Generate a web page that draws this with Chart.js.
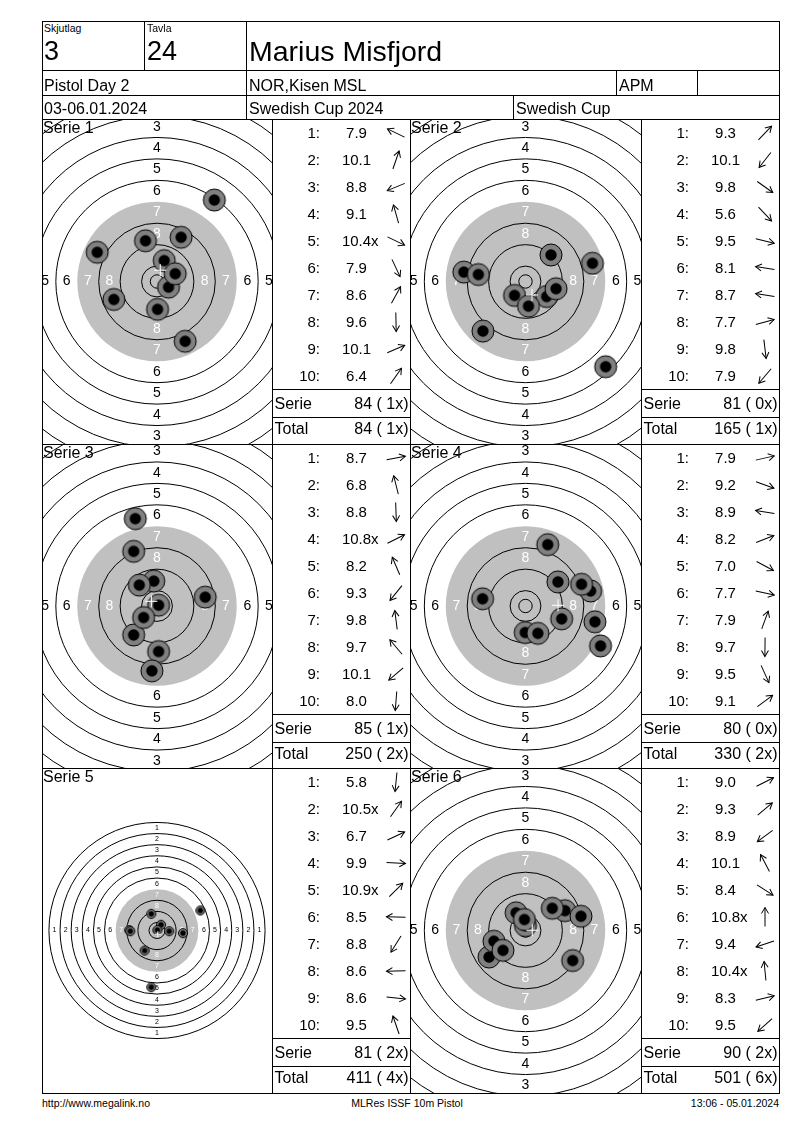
<!DOCTYPE html>
<html lang="sv">
<head>
<meta charset="utf-8">
<title>Marius Misfjord - Swedish Cup 2024</title>
<script src="https://cdn.jsdelivr.net/npm/chart.js@4.4.1/dist/chart.umd.min.js"></script>
<style>
  html, body { margin: 0; padding: 0; background: #fff; }
  #page { position: relative; width: 800px; height: 1130px; overflow: hidden;
          font-family: Arial, "Liberation Sans", sans-serif; color: #000; }
  .t { position: absolute; white-space: pre; line-height: 1; z-index: 4; }
  .hl, .vl { position: absolute; background: #000; z-index: 3; }
  .hl { height: 1px; }
  .vl { width: 1px; }
  canvas { position: absolute; }
  .arrow { position: absolute; width: 22px; height: 22px; z-index: 4; }
</style>
</head>
<body>
<div id="page"></div>
<script>
// Rubriker
const headerLabels = ['Skjutlag', 'Tavla'];
const headerValues = ['3', '24'];
const shooter = 'Marius Misfjord';
const rowTwo = ['Pistol Day 2', 'NOR,Kisen MSL', 'APM', ''];
const rowThree = ['03-06.01.2024', 'Swedish Cup 2024', 'Swedish Cup'];
const footer = ['http://www.megalink.no', 'MLRes ISSF 10m Pistol', '13:06 - 05.01.2024'];

const serieLabels = ['Serie 1', 'Serie 2', 'Serie 3', 'Serie 4', 'Serie 5', 'Serie 6'];
const ringNumbers = [1, 2, 3, 4, 5, 6, 7, 8, 9, 10];

// Skott: poäng, inre tia, träffläge i mm från tavlans mitt (x höger, y upp)
const scores1 = [7.9, 10.1, 8.8, 9.1, 10.4, 7.9, 8.6, 9.6, 10.1, 6.4];
const inner1 = [0, 0, 0, 0, 1, 0, 0, 0, 0, 0];
const shotX1 = [-22.3, 2.7, -16.1, -4.3, 4.3, 10.5, 9.0, 0.2, 6.8, 21.4];
const shotY1 = [10.9, 7.8, -6.7, 15.2, -2.1, -22.3, 16.5, -10.4, 2.9, 30.4];

const scores2 = [9.3, 10.1, 9.8, 5.6, 9.5, 8.1, 8.7, 7.7, 9.8, 7.9];
const inner2 = [0, 0, 0, 0, 0, 0, 0, 0, 0, 0];
const shotX2 = [9.5, -4.1, 7.9, 29.9, 11.4, -23.0, -17.6, 25.0, 1.1, -15.9];
const shotY2 = [9.9, -5.2, -5.6, -31.8, -2.7, 3.5, 2.6, 6.8, -9.2, -18.5];

const scores3 = [8.7, 6.8, 8.8, 10.8, 8.2, 9.3, 9.8, 9.7, 10.1, 8.0];
const inner3 = [0, 0, 0, 1, 0, 0, 0, 0, 0, 0];
const shotX3 = [18.0, -8.1, 0.6, 0.6, -8.7, -8.7, -1.2, -6.6, -5.0, -1.9];
const shotY3 = [3.3, 32.6, -17.0, 0.3, 20.4, -10.8, 9.3, 7.8, -4.3, -24.2];

const scores4 = [7.9, 9.2, 8.9, 8.2, 7.0, 7.7, 7.9, 9.7, 9.5, 9.1];
const inner4 = [0, 0, 0, 0, 0, 0, 0, 0, 0, 0];
const shotX4 = [24.3, 13.5, -16.0, 20.9, 28.0, 25.9, 8.3, -0.1, 4.6, 12.1];
const shotY4 = [5.6, -4.8, 2.7, 8.1, -14.9, -5.9, 22.9, -9.9, -10.2, 9.0];

const scores5 = [5.8, 10.5, 6.7, 9.9, 10.9, 8.5, 8.8, 8.6, 8.6, 9.5];
const inner5 = [0, 1, 0, 0, 1, 0, 0, 0, 0, 0];
const shotX5 = [-4.1, 2.9, 31.2, 8.8, 0.3, -20.0, -8.9, -19.2, 18.7, -4.1];
const shotY5 = [-40.8, 4.1, 14.4, -0.5, 0.3, 0.3, -14.4, -0.5, -1.9, 12.0];

const scores6 = [9.0, 9.3, 8.9, 10.1, 8.4, 10.8, 9.4, 10.4, 8.3, 9.5];
const inner6 = [0, 0, 0, 0, 0, 1, 0, 1, 0, 0];
const shotX6 = [14.7, 10.0, -13.6, -3.5, 17.6, 0.0, -11.8, -0.4, 20.7, -8.4];
const shotY6 = [7.4, 8.3, -9.9, 6.6, -11.2, 1.8, -4.0, 4.1, 5.3, -7.4];

const series = [
  { scores: scores1, inner: inner1, xs: shotX1, ys: shotY1 },
  { scores: scores2, inner: inner2, xs: shotX2, ys: shotY2 },
  { scores: scores3, inner: inner3, xs: shotX3, ys: shotY3 },
  { scores: scores4, inner: inner4, xs: shotX4, ys: shotY4 },
  { scores: scores5, inner: inner5, xs: shotX5, ys: shotY5 },
  { scores: scores6, inner: inner6, xs: shotX6, ys: shotY6 }
];

// Tavlans mått (10 m luftpistol), mm
const tenRadius = 5.75;
const ringStep = 8;
const innerTenRadius = 2.5;

// Sidlayout
const blockTop = [119, 444, 768];
const blockHeight = [325, 324, 325];
const targetLeft = [42, 410];
const targetWidth = [230, 231];
const tableLeft = [272, 641];
const rowHeight = 27;

const page = document.getElementById('page');

function text(str, left, top, size, extra) {
  const d = document.createElement('div');
  d.className = 't';
  d.textContent = str;
  d.style.left = left + 'px';
  d.style.top = top + 'px';
  d.style.fontSize = size + 'px';
  if (extra) Object.assign(d.style, extra);
  page.appendChild(d);
  return d;
}

function hline(x1, x2, y) {
  const d = document.createElement('div');
  d.className = 'hl';
  d.style.left = x1 + 'px';
  d.style.top = y + 'px';
  d.style.width = (x2 - x1 + 1) + 'px';
  page.appendChild(d);
}

function vline(x, y1, y2) {
  const d = document.createElement('div');
  d.className = 'vl';
  d.style.left = x + 'px';
  d.style.top = y1 + 'px';
  d.style.height = (y2 - y1 + 1) + 'px';
  page.appendChild(d);
}

function arrow(left, top, deg) {
  const d = document.createElement('div');
  d.className = 'arrow';
  d.style.left = left + 'px';
  d.style.top = top + 'px';
  d.innerHTML = '<svg width="22" height="22"><g transform="rotate(' + (-deg) + ' 11 11)" ' +
    'stroke="#000" stroke-width="1" fill="none">' +
    '<line x1="1.5" y1="11" x2="20.5" y2="11"/>' +
    '<polyline points="14.5,7.5 20.5,11 14.5,14.5"/></g></svg>';
  page.appendChild(d);
}

// Ramar
[21, 70, 95, 119, 444, 768, 1093].forEach(y => hline(42, 779, y));
vline(42, 21, 1093);
vline(779, 21, 1093);
vline(144, 21, 70);
vline(246, 21, 119);
vline(616, 70, 95);
vline(697, 70, 95);
vline(513, 95, 119);
[272, 410, 641].forEach(x => vline(x, 119, 1093));

// Huvud
text(headerLabels[0], 44, 22.5, 10.5);
text(headerLabels[1], 147, 22.5, 10.5);
text(headerValues[0], 44, 37.5, 27);
text(headerValues[1], 147, 37.5, 27);
text(shooter, 249, 36.5, 28.5);
text(rowTwo[0], 44, 78, 16);
text(rowTwo[1], 249, 78, 16);
text(rowTwo[2], 619, 78, 16);
text(rowTwo[3], 700, 78, 16);
text(rowThree[0], 44, 100.8, 16);
text(rowThree[1], 249, 100.8, 16);
text(rowThree[2], 516, 100.8, 16);

// Fot
text(footer[0], 42, 1098, 10.5);
text(footer[1], 300, 1098, 10.5, { width: '214px', textAlign: 'center' });
text(footer[2], 579, 1098, 10.5, { width: '200px', textAlign: 'right' });

// Ringar, svart område och siffror ritas under skotten
const targetPlugin = {
  id: 'target',
  beforeDatasetsDraw(chart, args, opts) {
    const ctx = chart.ctx;
    const sx = chart.scales.x, sy = chart.scales.y;
    const cx = sx.getPixelForValue(0), cy = sy.getPixelForValue(0);
    const k = sx.getPixelForValue(1) - cx;
    const ringR = n => (tenRadius + (10 - n) * ringStep) * k;
    ctx.save();
    ctx.fillStyle = '#c0c0c0';
    ctx.beginPath();
    ctx.arc(cx, cy, ringR(7), 0, Math.PI * 2);
    ctx.fill();
    ctx.strokeStyle = '#000';
    ctx.lineWidth = 1;
    ringNumbers.forEach(n => {
      if (n === 7) return;
      ctx.beginPath();
      ctx.arc(cx, cy, ringR(n), 0, Math.PI * 2);
      ctx.stroke();
    });
    ctx.beginPath();
    ctx.arc(cx, cy, innerTenRadius * k, 0, Math.PI * 2);
    ctx.stroke();
    ctx.font = opts.labelSize + 'px Arial, "Liberation Sans", sans-serif';
    ctx.textAlign = 'center';
    ctx.textBaseline = 'middle';
    ringNumbers.forEach(n => {
      if (n > 8) return;
      const r = ringR(n) - ringStep / 2 * k;
      ctx.fillStyle = n >= 7 ? '#fff' : '#000';
      ctx.fillText(String(n), cx, cy - r);
      ctx.fillText(String(n), cx, cy + r);
      ctx.fillText(String(n), cx - r, cy);
      ctx.fillText(String(n), cx + r, cy);
    });
    ctx.restore();
  }
};

function shotImage(outer, inner) {
  const size = Math.ceil(outer) * 2 + 2;
  const c = document.createElement('canvas');
  c.width = size;
  c.height = size;
  const g = c.getContext('2d');
  g.beginPath();
  g.arc(size / 2, size / 2, outer - 0.5, 0, Math.PI * 2);
  g.fillStyle = '#808080';
  g.fill();
  g.strokeStyle = '#000';
  g.lineWidth = 1;
  g.stroke();
  g.beginPath();
  g.arc(size / 2, size / 2, inner, 0, Math.PI * 2);
  g.fillStyle = '#000';
  g.fill();
  return c;
}

// Linjär axel med exakt min/max (inga avrundade tickgränser)
function fixedAxis(lo, hi) {
  return {
    type: 'linear',
    display: false,
    bounds: 'data',
    min: lo,
    max: hi,
    afterBuildTicks(scale) {
      scale.min = lo;
      scale.max = hi;
    }
  };
}

const bigLook = { ppm: 2.68, outer: 11.5, inner: 5.7, cross: 6, labelSize: 14 };
const smallLook = { ppm: 1.39, outer: 5, inner: 2.7, cross: 3, labelSize: 7 };

let runTotal = 0;
let runX = 0;

series.forEach((s, i) => {
  const b = Math.floor(i / 2), side = i % 2;
  const top = blockTop[b], h = blockHeight[b];
  const left = targetLeft[side], w = targetWidth[side];
  const look = i === 4 ? smallLook : bigLook;

  // Tavla
  const canvas = document.createElement('canvas');
  canvas.width = w;
  canvas.height = h;
  canvas.style.left = left + 'px';
  canvas.style.top = top + 'px';
  canvas.style.width = w + 'px';
  canvas.style.height = h + 'px';
  page.appendChild(canvas);

  const meanX = s.xs.reduce((a, v) => a + v, 0) / s.xs.length;
  const meanY = s.ys.reduce((a, v) => a + v, 0) / s.ys.length;

  new Chart(canvas, {
    type: 'scatter',
    data: {
      datasets: [
        {
          label: 'Medelträff',
          data: [{ x: meanX, y: meanY }],
          pointStyle: 'cross',
          pointRadius: look.cross,
          pointBorderColor: '#fff',
          pointBorderWidth: 1,
          order: 0
        },
        {
          label: serieLabels[i],
          data: s.xs.map((x, k) => ({ x: x, y: s.ys[k] })),
          pointStyle: shotImage(look.outer, look.inner),
          pointRadius: look.outer,
          order: 1
        }
      ]
    },
    options: {
      responsive: false,
      maintainAspectRatio: false,
      animation: false,
      events: [],
      layout: { autoPadding: false, padding: 0 },
      scales: {
        x: fixedAxis(-w / 2 / look.ppm, w / 2 / look.ppm),
        y: fixedAxis(-h / 2 / look.ppm, h / 2 / look.ppm)
      },
      plugins: {
        legend: { display: false },
        tooltip: { enabled: false },
        target: { labelSize: look.labelSize }
      }
    },
    plugins: [targetPlugin]
  });

  text(serieLabels[i], left + 1, top + 1, 16);

  // Resultatlista
  const tl = tableLeft[side];
  s.scores.forEach((v, k) => {
    const rowTop = top + k * rowHeight;
    text((k + 1) + ':', tl, rowTop + 5.6, 15, { width: '48px', textAlign: 'right' });
    const sc = text(v.toFixed(1), tl + 84.5, rowTop + 5.6, 15, { transform: 'translateX(-50%)' });
    if (s.inner[k]) {
      const x = document.createElement('span');
      x.textContent = 'x';
      x.style.position = 'absolute';
      x.style.left = '100%';
      x.style.top = '0';
      sc.appendChild(x);
    }
    const deg = Math.atan2(s.ys[k], s.xs[k]) * 180 / Math.PI;
    arrow(tl + 123.5 - 11, rowTop + 13.5 - 11, deg);
  });

  const serieSum = s.scores.reduce((a, v) => a + Math.floor(v + 1e-9), 0);
  const serieX = s.inner.reduce((a, v) => a + v, 0);
  runTotal += serieSum;
  runX += serieX;

  hline(tl, tl + 138, top + 270);
  hline(tl, tl + 138, top + 298);
  text('Serie', tl + 2.5, top + 277, 16);
  text(serieSum + ' (' + String(serieX).padStart(2, ' ') + 'x)', tl, top + 277, 16,
    { width: '136.5px', textAlign: 'right' });
  text('Total', tl + 2.5, top + 302, 16);
  text(runTotal + ' (' + String(runX).padStart(2, ' ') + 'x)', tl, top + 302, 16,
    { width: '136.5px', textAlign: 'right' });
});
</script>
</body>
</html>
